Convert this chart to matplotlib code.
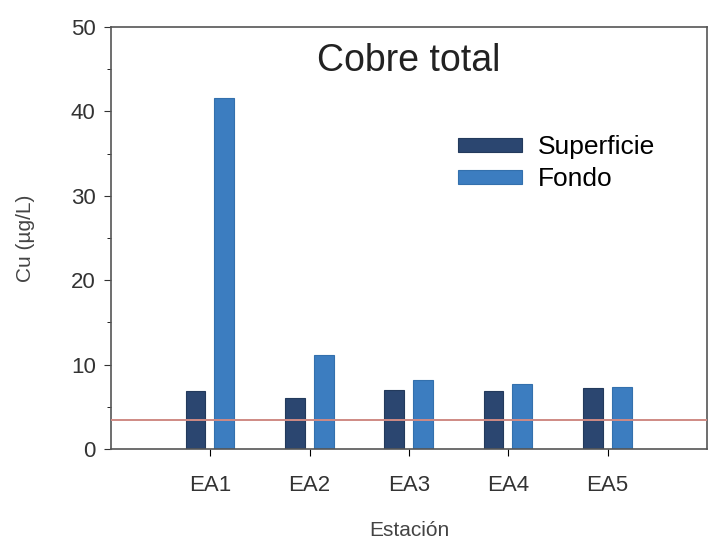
import matplotlib
matplotlib.use("Agg")
import matplotlib.pyplot as plt
import numpy as np
from matplotlib.ticker import MultipleLocator

stations = ["EA1", "EA2", "EA3", "EA4", "EA5"]
superficie = [6.9, 6.0, 7.0, 6.9, 7.2]
fondo = [41.6, 11.1, 8.2, 7.7, 7.3]
reference_level = 3.4

plt.rcParams['font.family'] = ['Liberation Sans', 'DejaVu Sans']

fig = plt.figure(figsize=(7.09, 5.48), dpi=100)
ax = fig.add_axes([111/709, 99/548, 596/709, 422/548])

x = np.arange(1, len(stations) + 1)
w = 0.2
ax.bar(x - 0.15, superficie, w, color="#2b4670", edgecolor="#233a5c", linewidth=0.8, label="Superficie")
ax.bar(x + 0.14, fondo, w, color="#3c7dc0", edgecolor="#3370ad", linewidth=0.8, label="Fondo")
ax.axhline(reference_level, color="#cf8a84", linewidth=1.4, zorder=3)

ax.set_xlim(0, 6)
ax.set_ylim(0, 50)
ax.set_xticks(x)
ax.set_xticklabels(stations, fontsize=16, color="#333333")
ax.yaxis.set_major_locator(MultipleLocator(10))
ax.yaxis.set_minor_locator(MultipleLocator(5))
ax.tick_params(axis='y', labelsize=16, colors="#333333", length=5, direction='out', pad=6)
ax.tick_params(axis='y', which='minor', length=3)
ax.tick_params(axis='x', length=5, direction='out', pad=14)
for s in ax.spines.values():
    s.set_color("#555555")
    s.set_linewidth(1.2)

ax.set_xlabel("Estación", fontsize=15, color="#444444", labelpad=18)
ax.set_ylabel("Cu (µg/L)", fontsize=15, color="#444444", labelpad=26)
ax.text(0.50, 0.92, "Cobre total", transform=ax.transAxes, fontsize=27,
        color="#222222", ha='center', va='center')
ax.legend(loc='upper left', bbox_to_anchor=(0.543, 0.80), frameon=False,
          fontsize=19, handlelength=2.4, handleheight=0.45, labelspacing=0.3,
          handletextpad=0.6)

fig.savefig("out.png", dpi=100)
